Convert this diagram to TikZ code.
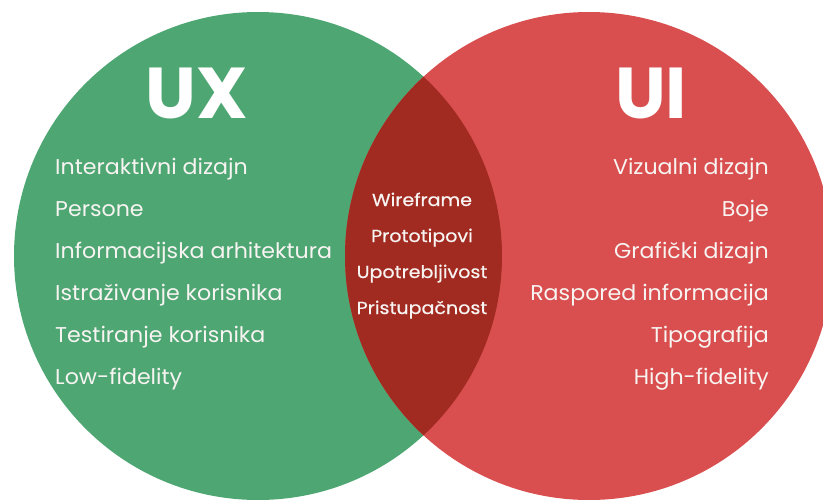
\documentclass[tikz,border=0pt]{standalone}
\usepackage{fontspec}
\setmainfont{Poppins}
\newfontfamily\itemfont[FakeStretch=1.035]{Poppins}
\newfontfamily\midfont[FakeStretch=1.09,FakeBold=0.6]{Poppins}
\definecolor{uxgreen}{HTML}{4EA673}
\definecolor{uired}{HTML}{D94F4F}
\definecolor{lens}{HTML}{A22B21}
\definecolor{txt}{HTML}{F7F4F2}
\begin{document}
\begin{tikzpicture}[x=1pt,y=-1pt,
  item/.style={inner sep=0pt,text=txt,font=\itemfont\fontsize{21.4}{21.4}\selectfont},
  mid/.style={inner sep=0pt,text=txt,font=\midfont\fontsize{17.5}{17.5}\selectfont,anchor=base},
  title/.style={inner sep=0pt,text=white,font=\fontsize{72}{72}\selectfont\bfseries,anchor=base}]
\useasboundingbox (0,0) rectangle (823,499);
\fill[uxgreen] (258,256) circle[radius=244];
\fill[uired] (589,256) circle[radius=244];
\begin{scope}
\clip (258,256) circle[radius=244];
\fill[lens] (589,256) circle[radius=244];
\end{scope}
\node[title] (ux) at (197,118) {UX};
\node[title] (ui) at (651,118) {UI};
\foreach \t [count=\i] in {Interaktivni dizajn,Persone,Informacijska arhitektura,Istraživanje korisnika,Testiranje korisnika,Low-fidelity}
  \node[item,anchor=base west] (l\i) at (55,132+42*\i) {\t};
\foreach \t [count=\i] in {Vizualni dizajn,Boje,Grafički dizajn,Raspored informacija,Tipografija,High-fidelity}
  \node[item,anchor=base east] (r\i) at (769,132+42*\i) {\t};
\foreach \t [count=\i] in {Wireframe,Prototipovi,Upotrebljivost,Pristupačnost}
  \node[mid] (m\i) at (422,170+36*\i) {\t};
\end{tikzpicture}
\end{document}
